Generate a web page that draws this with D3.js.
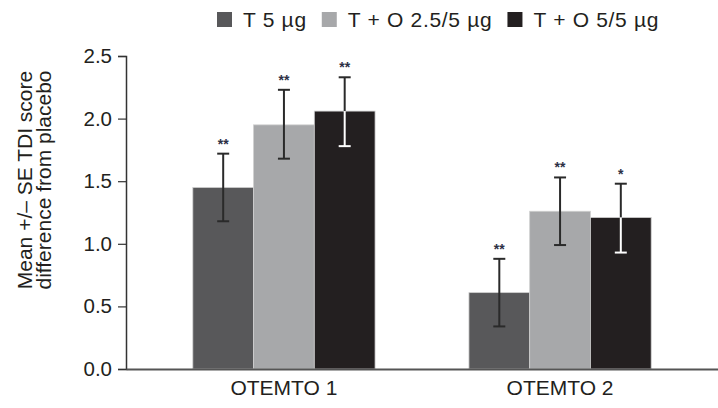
<!DOCTYPE html>
<html><head><meta charset="utf-8">
<script src="https://cdn.jsdelivr.net/npm/d3@7"></script>
<style>body{margin:0;background:#fff}svg{display:block}text{font-family:"Liberation Sans",Arial,sans-serif}</style>
</head><body><svg id="c" width="718" height="408"></svg>
<script>
const categories = ["OTEMTO 1", "OTEMTO 2"];
const seriesNames = ["T 5 µg", "T + O 2.5/5 µg", "T + O 5/5 µg"];
const seriesColors = ["#58585a", "#a7a8aa", "#231f20"];
const means = [[1.45, 1.95, 2.06], [0.61, 1.26, 1.21]];
const errLow = [[1.18, 1.68, 1.78], [0.34, 0.99, 0.93]];
const errHigh = [[1.72, 2.23, 2.33], [0.88, 1.53, 1.48]];
const stars = [["**", "**", "**"], ["**", "**", "*"]];
const yTicks = [0, 0.5, 1.0, 1.5, 2.0, 2.5];
const yTitle = ["Mean +/\u2013 SE TDI score", "difference from placebo"];

const svg = d3.select("#c");
const x0 = d3.scaleBand().domain(categories).range([126, 718]).paddingInner(0.34).paddingOuter(0.242);
const x1 = d3.scaleBand().domain(d3.range(3)).range([0, x0.bandwidth()]);
const y = d3.scaleLinear().domain([0, 2.5]).range([369, 56]);

// bars
const rows = [];
categories.forEach((c, i) => seriesNames.forEach((s, j) => rows.push({c, i, j})));
const g = svg.append("g");
g.selectAll("rect").data(rows).join("rect")
  .attr("x", d => x0(d.c) + x1(d.j))
  .attr("y", d => y(means[d.i][d.j]))
  .attr("width", x1.bandwidth())
  .attr("height", d => y(0) - y(means[d.i][d.j]))
  .attr("fill", d => seriesColors[d.j])
  .attr("stroke", "#cfcfcf").attr("stroke-width", 0.8);

// error bars
const cap = 6;
rows.forEach(d => {
  const cx = x0(d.c) + x1(d.j) + x1.bandwidth() / 2;
  const lo = y(errLow[d.i][d.j]), hi = y(errHigh[d.i][d.j]), top = y(means[d.i][d.j]);
  const col = "#2a2a2a";
  const eg = svg.append("g").attr("stroke-width", 2);
  if (d.j === 2) {
    eg.append("line").attr("x1", cx).attr("x2", cx).attr("y1", hi).attr("y2", top).attr("stroke", col);
    eg.append("line").attr("x1", cx).attr("x2", cx).attr("y1", top).attr("y2", lo).attr("stroke", "#fff");
    eg.append("line").attr("x1", cx - cap).attr("x2", cx + cap).attr("y1", hi).attr("y2", hi).attr("stroke", col);
    eg.append("line").attr("x1", cx - cap).attr("x2", cx + cap).attr("y1", lo).attr("y2", lo).attr("stroke", "#fff");
  } else {
    eg.append("line").attr("x1", cx).attr("x2", cx).attr("y1", hi).attr("y2", lo).attr("stroke", col);
    eg.append("line").attr("x1", cx - cap).attr("x2", cx + cap).attr("y1", hi).attr("y2", hi).attr("stroke", col);
    eg.append("line").attr("x1", cx - cap).attr("x2", cx + cap).attr("y1", lo).attr("y2", lo).attr("stroke", col);
  }
  svg.append("text").attr("x", cx).attr("y", hi - 5).attr("text-anchor", "middle")
    .attr("font-size", 14).attr("font-weight", "bold").attr("fill", "#2d3045").text(stars[d.i][d.j]);
});

// y axis
const yAxis = svg.append("g").attr("transform", "translate(126,0)")
  .call(d3.axisLeft(y).tickValues(yTicks).tickFormat(d3.format(".1f")).tickSize(8).tickPadding(6));
yAxis.select(".domain").attr("stroke", "#333").attr("stroke-width", 1.5);
yAxis.selectAll(".tick line").attr("stroke", "#333").attr("stroke-width", 1.2);
yAxis.selectAll(".tick text").attr("font-size", 20.5).attr("fill", "#231f20")
  .attr("font-family", "'Liberation Sans',Arial,sans-serif");

// x axis
const xAxis = svg.append("g").attr("transform", "translate(0,369)")
  .call(d3.axisBottom(x0).tickSize(0).tickPadding(11));
xAxis.select(".domain").attr("stroke", "#555").attr("stroke-width", 2);
xAxis.selectAll(".tick text").attr("font-size", 21).attr("fill", "#231f20")
  .attr("font-family", "'Liberation Sans',Arial,sans-serif");

// y title
const yt = svg.append("text").attr("transform", "translate(0,180) rotate(-90)")
  .attr("text-anchor", "middle").attr("font-size", 21).attr("fill", "#231f20");
yTitle.forEach((t, k) => yt.append("tspan").attr("x", 0).attr("y", 32 + k * 19).text(t));

// legend
const leg = svg.append("g");
let lx = 217;
seriesNames.forEach((s, j) => {
  leg.append("rect").attr("x", lx).attr("y", 12).attr("width", 15).attr("height", 15).attr("fill", seriesColors[j]);
  const t = leg.append("text").attr("x", lx + 26).attr("y", 27).attr("font-size", 21)
    .attr("letter-spacing", 0.7).attr("fill", "#231f20").text(s);
  lx += 26 + t.node().getComputedTextLength() + 15;
});
</script></body></html>
